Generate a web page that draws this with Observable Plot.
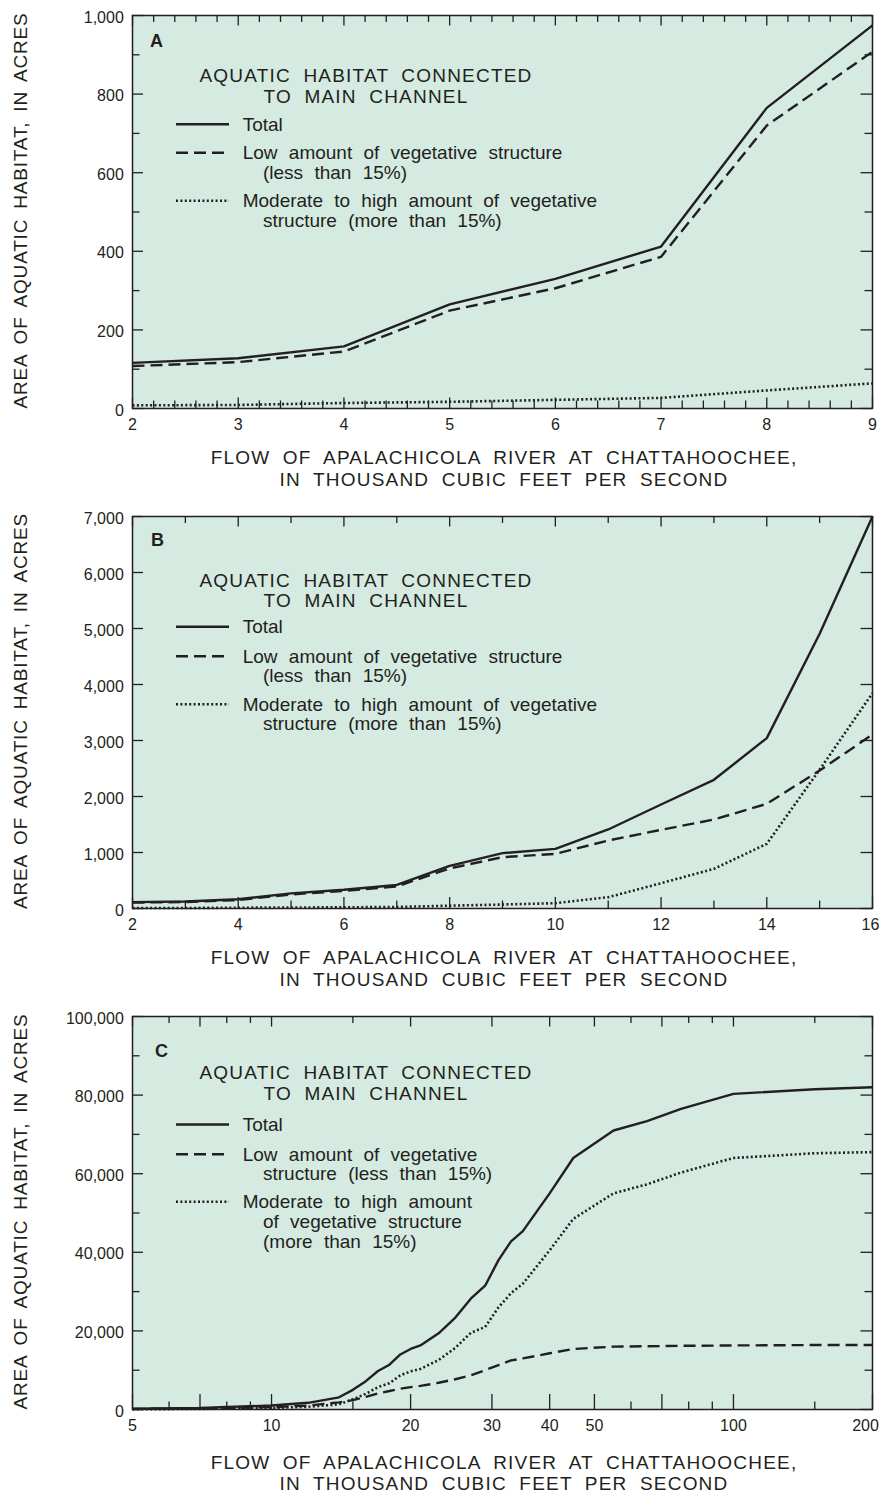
<!DOCTYPE html>
<html><head><meta charset="utf-8">
<script src="https://cdn.jsdelivr.net/npm/d3@7"></script>
<script src="https://cdn.jsdelivr.net/npm/@observablehq/plot@0.6"></script>
<style>
body{margin:0;background:#fff;}
#chart svg{display:block;}
</style></head><body><div id="chart"></div>
<script>
// ---------- DATA ----------
// Panel A
const flowA  = [2, 3, 4, 5, 6, 7, 8, 9];
const totalA = [116, 128, 158, 265, 330, 412, 765, 975];
const lowA   = [108, 118, 145, 249, 306, 386, 720, 908];
const modA   = [8, 9, 14, 17, 22, 27, 46, 64];
const xTicksA = [2, 3, 4, 5, 6, 7, 8, 9];
const xMinorA = [2.2,2.4,2.6,2.8,3.2,3.4,3.6,3.8,4.2,4.4,4.6,4.8,5.2,5.4,5.6,5.8,6.2,6.4,6.6,6.8,7.2,7.4,7.6,7.8,8.2,8.4,8.6,8.8];
const yTicksA = [0, 200, 400, 600, 800, 1000];
const yMinorA = [100, 300, 500, 700, 900];

// Panel B
const flowB  = [2, 3, 4, 5, 6, 7, 8, 9, 10, 11, 12, 13, 14, 15, 16];
const totalB = [113, 125, 165, 270, 335, 420, 760, 988, 1065, 1411, 1857, 2298, 3042, 4905, 7000];
const lowB   = [105, 116, 150, 252, 313, 393, 715, 917, 976, 1214, 1405, 1589, 1869, 2464, 3107];
const modB   = [8, 9, 14, 17, 22, 27, 50, 71, 95, 202, 452, 708, 1155, 2480, 3845];
const xTicksB = [2, 4, 6, 8, 10, 12, 14, 16];
const xMinorB = [3, 5, 7, 9, 11, 13, 15];
const yTicksB = [0, 1000, 2000, 3000, 4000, 5000, 6000, 7000];
const yMinorB = [];

// Panel C
const flowC  = [5, 7, 10, 12, 14, 15, 16, 17, 18, 19, 20, 21, 23, 25, 27, 29, 31, 33, 35, 40, 45, 55, 65, 77, 100, 150, 200];
const totalC = [200, 420, 1000, 1700, 3100, 5000, 7200, 9800, 11400, 14000, 15400, 16300, 19400, 23400, 28200, 31500, 38000, 42800, 45400, 55000, 64000, 71000, 73400, 76500, 80300, 81500, 82000];
const lowC   = [140, 280, 600, 1000, 1800, 2400, 3200, 4100, 4700, 5300, 5700, 6000, 6800, 7700, 8700, 10000, 11300, 12500, 13000, 14300, 15400, 16000, 16100, 16200, 16300, 16400, 16400];
const modC   = [60, 140, 400, 700, 1300, 2600, 4000, 5700, 6700, 8700, 9700, 10300, 12600, 15700, 19500, 21000, 26000, 29600, 32000, 40500, 48500, 55000, 57300, 60300, 64000, 65200, 65500];
const xTicksC = [5, 7, 10, 20, 30, 40, 50, 70, 100, 200];
const xMinorC = [6, 8, 9, 15, 60, 80, 90, 150];
const yTicksC = [0, 20000, 40000, 60000, 80000, 100000];
const yMinorC = [10000, 30000, 50000, 70000, 90000];

// Text
const yTitle = "AREA OF AQUATIC HABITAT, IN ACRES";
const xTitle = ["FLOW OF APALACHICOLA RIVER AT CHATTAHOOCHEE,", "IN THOUSAND CUBIC FEET PER SECOND"];
const legendTitle = ["AQUATIC HABITAT CONNECTED", "TO MAIN CHANNEL"];
const seriesLabelsAB = [["Total"], ["Low amount of vegetative structure", "(less than 15%)"], ["Moderate to high amount of vegetative", "structure (more than 15%)"]];
const seriesLabelsC  = [["Total"], ["Low amount of vegetative", "structure (less than 15%)"], ["Moderate to high amount", "of vegetative structure", "(more than 15%)"]];

// ---------- STYLE ----------
const FONT = '"Liberation Sans", Arial, Helvetica, sans-serif';
const INK = "#231f20";
const BG = "#d5eae0";
const W = 882, ML = 132, MR = 10;
const TICK_FONT = 16;
const seriesStyles = [
  {strokeWidth: 2.4, dash: null},
  {strokeWidth: 2.4, dash: "12,6"},
  {strokeWidth: 2.6, dash: "2,2.4"}
];

const rows = (xs, ys) => xs.map((x, i) => ({x, y: ys[i]}));

function panel(cfg) {
  const {height, mt, mb} = cfg;
  const innerH = height - mt - mb;
  const innerW = W - ML - MR;
  const series = [cfg.total, cfg.low, cfg.mod];
  const marks = [Plot.frame({fill: BG, stroke: "none"})];
  [1, 2, 0].forEach(k => {
    marks.push(Plot.line(rows(cfg.flow, series[k]), {
      x: "x", y: "y", stroke: INK, strokeWidth: seriesStyles[k].strokeWidth,
      strokeDasharray: seriesStyles[k].dash, strokeLinejoin: "miter", strokeLinecap: "butt"
    }));
  });
  const tk = {stroke: INK, strokeWidth: 1.3};
  // inward tick marks as short rules hanging off each edge of the frame
  marks.push(
    Plot.ruleX(cfg.xTicks, {...tk, insetTop: innerH - cfg.xMajLen}),
    Plot.ruleX(cfg.xMinor, {...tk, insetTop: innerH - 7.5}),
    Plot.ruleX(cfg.xTicks, {...tk, insetBottom: innerH - 10.5}),
    Plot.ruleX(cfg.xMinor, {...tk, insetBottom: innerH - 7}),
    Plot.ruleY(cfg.yTicks, {...tk, insetRight: innerW - 11}),
    Plot.ruleY(cfg.yTicks, {...tk, insetLeft: innerW - 11.5})
  );
  if (cfg.yMinor.length) {
    marks.push(
      Plot.ruleY(cfg.yMinor, {...tk, insetRight: innerW - 7.5}),
      Plot.ruleY(cfg.yMinor, {...tk, insetLeft: innerW - 7.5})
    );
  }
  const xLab = cfg.xTicks.slice(0, -1), xLast = cfg.xTicks.slice(-1);
  marks.push(
    Plot.axisX(xLab, {anchor: "bottom", tickSize: 0, tickPadding: 10, tickFormat: d => String(d), label: null, fontSize: TICK_FONT}),
    Plot.axisX(xLast, {anchor: "bottom", tickSize: 0, tickPadding: 10, tickFormat: d => String(d), label: null, fontSize: TICK_FONT, dx: cfg.lastDx}),
    Plot.axisY(cfg.yTicks, {anchor: "left", tickSize: 0, tickPadding: 8.7, tickFormat: d3.format(","), label: null, fontSize: TICK_FONT, dy: 2}),
    Plot.frame({stroke: INK, strokeWidth: 1.5})
  );

  const svgEl = Plot.plot({
    width: W, height, marginLeft: ML, marginRight: MR, marginTop: mt, marginBottom: mb,
    style: {fontFamily: FONT, fontSize: TICK_FONT + "px", color: INK, background: "white", overflow: "visible"},
    x: {type: cfg.xType, domain: cfg.xDomain},
    y: {domain: cfg.yDomain},
    marks
  });

  const svg = d3.select(svgEl);
  const plotBottom = height - mb;
  const plotMid = (mt + plotBottom) / 2;

  // y title
  svg.append("text")
    .attr("transform", `translate(27,${plotMid - 1}) rotate(-90)`)
    .attr("text-anchor", "middle")
    .attr("fill", INK)
    .style("font-family", FONT).style("font-size", "19px")
    .style("letter-spacing", "0.8px").style("word-spacing", "4px")
    .text(yTitle);

  // x title
  const xt = svg.append("text").attr("text-anchor", "middle").attr("fill", INK)
    .style("font-family", FONT).style("font-size", "19px")
    .style("letter-spacing", "1.2px").style("word-spacing", "6px");
  xTitle.forEach((s, i) => xt.append("tspan").attr("x", 504).attr("y", plotBottom + cfg.xTitleY[i]).text(s));

  // legend
  const g = svg.append("g").attr("transform", `translate(${ML},${mt})`)
    .attr("fill", INK).attr("text-anchor", "start")
    .style("font-family", FONT).style("font-size", "19px");
  g.append("text").attr("x", cfg.letterX).attr("y", cfg.letterY)
    .style("font-weight", "bold").style("font-size", "18px").text(cfg.letter);
  const lt = g.append("text").attr("text-anchor", "middle")
    .style("letter-spacing", "1.2px").style("word-spacing", "6px");
  legendTitle.forEach((s, i) => lt.append("tspan").attr("x", 234).attr("y", cfg.titleY[i]).text(s));
  cfg.labels.forEach((lines, k) => {
    const base = cfg.rowY[k];
    const st = seriesStyles[k];
    g.append("line").attr("x1", 44).attr("x2", 97).attr("y1", base - 6.5).attr("y2", base - 6.5)
      .attr("stroke", INK).attr("stroke-width", st.strokeWidth)
      .attr("stroke-dasharray", st.dash);
    const t = g.append("text").attr("text-anchor", "start").style("word-spacing", "6px");
    lines.forEach((s, i) => t.append("tspan").attr("x", i === 0 ? 110.7 : 131).attr("y", base + i * 19.7).text(s));
  });
  return svgEl;
}

const root = document.getElementById("chart");
root.appendChild(panel({
  height: 500, mt: 15, mb: 92, xType: "linear", xDomain: [2, 9], yDomain: [0, 1000],
  flow: flowA, total: totalA, low: lowA, mod: modA,
  xTicks: xTicksA, xMinor: xMinorA, yTicks: yTicksA, yMinor: yMinorA, xMajLen: 10.5, lastDx: 0,
  xTitleY: [56.3, 78], letter: "A", letterX: 18, letterY: 31.5,
  titleY: [66.7, 88.3], rowY: [115.7, 144.3, 192.3], labels: seriesLabelsAB
}));
root.appendChild(panel({
  height: 500, mt: 16, mb: 92, xType: "linear", xDomain: [2, 16], yDomain: [0, 7000],
  flow: flowB, total: totalB, low: lowB, mod: modB,
  xTicks: xTicksB, xMinor: xMinorB, yTicks: yTicksB, yMinor: yMinorB, xMajLen: 11, lastDx: -2,
  xTitleY: [56.3, 78], letter: "B", letterX: 19, letterY: 30,
  titleY: [70.7, 91.3], rowY: [117.3, 146.7, 194.7], labels: seriesLabelsAB
}));
root.appendChild(panel({
  height: 499, mt: 16, mb: 90, xType: "log", xDomain: [5, 200], yDomain: [0, 100000],
  flow: flowC, total: totalC, low: lowC, mod: modC,
  xTicks: xTicksC, xMinor: xMinorC, yTicks: yTicksC, yMinor: yMinorC, xMajLen: 15, lastDx: -7,
  xTitleY: [60, 81], letter: "C", letterX: 23, letterY: 41,
  titleY: [63, 84], rowY: [115, 144.7, 192.3], labels: seriesLabelsC
}));
</script></body></html>
